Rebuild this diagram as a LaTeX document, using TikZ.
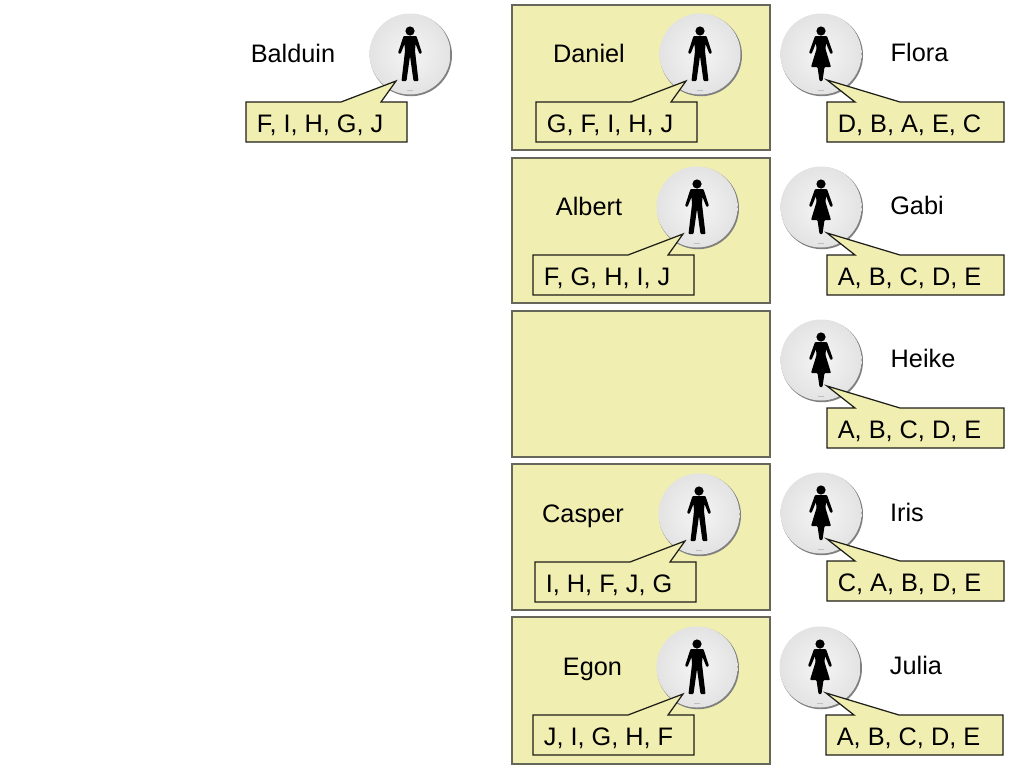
\documentclass[tikz,border=0pt]{standalone}
\usepackage{fontspec}
\setmainfont{Liberation Sans}
\definecolor{panelfill}{HTML}{F0EEB0}
\definecolor{panelline}{HTML}{66665A}
\definecolor{listline}{HTML}{1E1E18}
\tikzset{
  panel/.style={draw=panelline,fill=panelfill,line width=0.65pt},
  personname/.style={anchor=base,inner sep=0pt,font=\fontsize{14.4}{17}\selectfont},
  listtext/.style={anchor=base west,inner sep=0pt,font=\fontsize{14.4}{17}\selectfont},
  listbox/.style={draw=listline,fill=panelfill,line width=0.7pt,line join=miter},
  disk/.pic={
    \fill[black!50] (1,1.2) circle (41);
    \shade[inner color=black!4,outer color=black!11] (0,0) circle (40.5);
    \fill[black!25] (-3,36) rectangle (3,37);
  },
  man/.pic={
    \pic {disk};
    \fill (0,-23) circle (4.6);
    \fill[rounded corners=0.5pt] (-6.5,-18)--(6.5,-18)--(12,-1)--(9.5,0)--(5.5,-10)--(5,-3)--(8.5,27)--(3.5,27)--(0,2)--(-3.5,27)--(-8.5,27)--(-5,-3)--(-5.5,-10)--(-9.5,0)--(-12,-1)--cycle;
    \draw[listbox] (-164,48)--(-69,48)--(-14,27)--(-29,48)--(-3,48)--(-3,88)--(-164,88)--cycle;
    \node[listtext] (-list) at (-153.5,78) {#1};
  },
  woman/.pic={
    \pic {disk};
    \fill (0,-23) circle (4.6);
    \fill[rounded corners=0.5pt] (-6,-18)--(6,-18)--(12,-1)--(9.5,0)--(5,-11)--(4.5,-5)--(10,13)--(3.5,13)--(1.5,27)--(-1.5,27)--(-3.5,13)--(-10,13)--(-4.5,-5)--(-5,-11)--(-9.5,0)--(-12,-1)--cycle;
    \draw[listbox] (6,48)--(34,48)--(6,26)--(79,48)--(183,48)--(183,88)--(6,88)--cycle;
    \node[listtext] (-list) at (16.5,78) {#1};
  },
}
\begin{document}
\begin{tikzpicture}[x=0.02cm,y=-0.02cm]
\useasboundingbox (0,0) rectangle (1024,768);
% panels
\draw[panel] (512,5) rectangle (770,150);
\draw[panel] (512,158) rectangle (770,303);
\draw[panel] (512,311) rectangle (770,457);
\draw[panel] (512,464) rectangle (770,610);
\draw[panel] (512,617) rectangle (770,764);
% men
\pic (balduin) at (410,54) {man={F, I, H, G, J}};
\pic (daniel) at (700,54) {man={G, F, I, H, J}};
\pic (albert) at (697,207) {man={F, G, H, I, J}};
\pic (casper) at (699,514) {man={I, H, F, J, G}};
\pic (egon) at (697,667) {man={J, I, G, H, F}};
% women
\pic (flora) at (821,54) {woman={D, B, A, E, C}};
\pic (gabi) at (821,207) {woman={A, B, C, D, E}};
\pic (heike) at (821,360) {woman={A, B, C, D, E}};
\pic (iris) at (821,513) {woman={C, A, B, D, E}};
\pic (julia) at (820,667) {woman={A, B, C, D, E}};
% names
\node[personname] (balduinname) at (293,62) {Balduin};
\node[personname] (danielname) at (589,62) {Daniel};
\node[personname] (albertname) at (589,215) {Albert};
\node[personname] (caspername) at (583,522) {Casper};
\node[personname] (egonname) at (592.5,675) {Egon};
\node[personname] (floraname) at (919.5,61) {Flora};
\node[personname] (gabiname) at (917,214) {Gabi};
\node[personname] (heikename) at (923,367) {Heike};
\node[personname] (irisname) at (907,521) {Iris};
\node[personname] (julianame) at (916,674) {Julia};
\end{tikzpicture}
\end{document}
